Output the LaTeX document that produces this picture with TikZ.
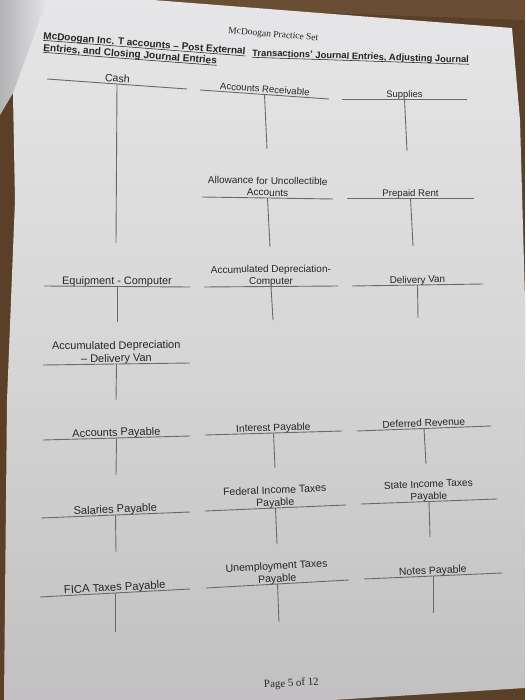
\documentclass[tikz,border=0pt]{standalone}
\usepackage{fontspec}
\setmainfont{Liberation Sans}
\newfontfamily\pageserif{Liberation Serif}
\usetikzlibrary{calc}
\definecolor{wood}{HTML}{5B4029}
\definecolor{woodlight}{HTML}{7A5C40}
\definecolor{ink}{HTML}{262626}
\definecolor{rulegray}{HTML}{6A6A6A}
\definecolor{pagetop}{HTML}{E6E6E8}
\definecolor{pagemid}{HTML}{D6D6D6}
\definecolor{pagebot}{HTML}{C2C0C2}
\definecolor{curl}{HTML}{D2D2D6}
\tikzset{
  tline/.style={draw=rulegray, line width=0.9pt},
  tlabel/.style={text=ink, inner sep=1.5pt, text depth=0pt, align=center, above, sloped, midway},
  titletext/.style={text=ink, inner sep=0pt, anchor=base west, sloped, pos=0, font=\bfseries},
  serifnote/.style={text=ink, inner sep=0pt, anchor=base west, sloped, pos=0},
}
\newcommand\taccount[6]{%
  \coordinate (#1L) at (#2);
  \coordinate (#1R) at (#3);
  \coordinate (#1B) at (#4);
  \coordinate (#1T) at ($(#1L)!0.5!(#1R)$);
  \draw[tline] (#1L) -- node[tlabel, font=\fontsize{#5}{\fpeval{1.18*#5}}\selectfont] (#1lab) {#6} (#1R);
  \draw[tline] (#1T) -- (#1B);
}
% tight underline: rule just under the baseline
\newcommand\tightul[1]{\leavevmode\setbox0\hbox{#1}\rlap{\rule[-1.6pt]{\wd0}{0.55pt}}\box0}
\begin{document}
\begin{tikzpicture}[x=1pt, y=-1pt]
\useasboundingbox (0,0) rectangle (525,700);
% background: table
\fill[wood] (0,0) rectangle (525,700);
\fill[woodlight, opacity=0.5] (150,0) -- (525,0) -- (525,20) -- (300,12) -- cycle;
% main page
\shade[top color=pagetop, bottom color=pagebot, middle color=pagemid]
  (0,0) -- (153,0) -- (512,28) -- (520,120) -- (525,300) -- (525,688) -- (333,700)
  -- (4,700) -- (7,400) -- (15,200) -- (13,95) -- cycle;
% curled page at top left
\shade[left color=curl!85!black, right color=curl!60!white]
  (0,0) -- (47,0) -- (13,93) -- (0,115) -- cycle;

% header
\coordinate (hdA) at (228,33);
\coordinate (hdB) at (318,41);
\path (hdA) -- (hdB) node[serifnote, font=\pageserif\fontsize{9.5}{11}\selectfont] (header) {McDoogan Practice Set};

% title
\coordinate (t1A) at (43,39);
\coordinate (t1B) at (250,55);
\coordinate (t2A) at (252,56);
\coordinate (t2B) at (470,63);
\coordinate (t3A) at (43,51);
\coordinate (t3B) at (223,64.5);
\path (t1A) -- (t1B) node[titletext, font=\bfseries\fontsize{10}{12}\selectfont] (title1) {\tightul{McDoogan Inc. T accounts -- Post External}};
\path (t2A) -- (t2B) node[titletext, font=\bfseries\fontsize{9.4}{12}\selectfont] (title2) {\tightul{Transactions' Journal Entries, Adjusting Journal}};
\path (t3A) -- (t3B) node[titletext, font=\bfseries\fontsize{10.1}{12}\selectfont] (title3) {\tightul{Entries, and Closing Journal Entries}};

% T accounts
\taccount{cash}{47,79}{187,89}{116,243}{10.6}{Cash}
\taccount{ar}{200,90}{329,99}{267,149}{9.6}{Accounts Receivable}
\taccount{sup}{342,99}{467,99}{407,151}{9.4}{Supplies}
\taccount{allow}{202,197}{333,199}{270,247}{10}{Allowance for Uncollectible\\Accounts}
\taccount{rent}{347,198}{474,198}{413,246}{9.6}{Prepaid Rent}
\taccount{equip}{44,286}{190,287}{117,322}{10.9}{Equipment - Computer}
\taccount{adc}{204,287}{338,286}{273,320}{10}{Accumulated Depreciation-\\Computer}
\taccount{van}{352,286}{483,284}{418,318}{9.9}{Delivery Van}
\taccount{adv}{43,365}{190,363}{116,400}{11}{Accumulated Depreciation\\-- Delivery Van}
\taccount{ap}{43,440}{190,436}{116,475}{11}{Accounts Payable}
\taccount{ip}{205,435}{342,431}{275,468}{10.3}{Interest Payable}
\taccount{dr}{357,431}{491,426}{426,464}{10.1}{Deferred Revenue}
\taccount{fed}{205,511}{346,505}{277,544}{10.5}{Federal Income Taxes\\Payable}
\taccount{state}{361,504}{497,499}{430,537}{10.1}{State Income Taxes\\Payable}
\taccount{sal}{41,518}{190,512}{116,552}{11.1}{Salaries Payable}
\taccount{fica}{40,597}{190,589}{115,632}{11.2}{FICA Taxes Payable}
\taccount{unemp}{206,588}{349,580}{279,622}{10.6}{Unemployment Taxes\\Payable}
\taccount{notes}{364,579}{502,573}{433,613}{10.4}{Notes Payable}

% footer
\coordinate (ftA) at (264,688);
\coordinate (ftB) at (319,685);
\path (ftA) -- (ftB) node[serifnote, font=\pageserif\fontsize{10.9}{12}\selectfont] (footer) {Page 5 of 12};
\end{tikzpicture}
\end{document}
